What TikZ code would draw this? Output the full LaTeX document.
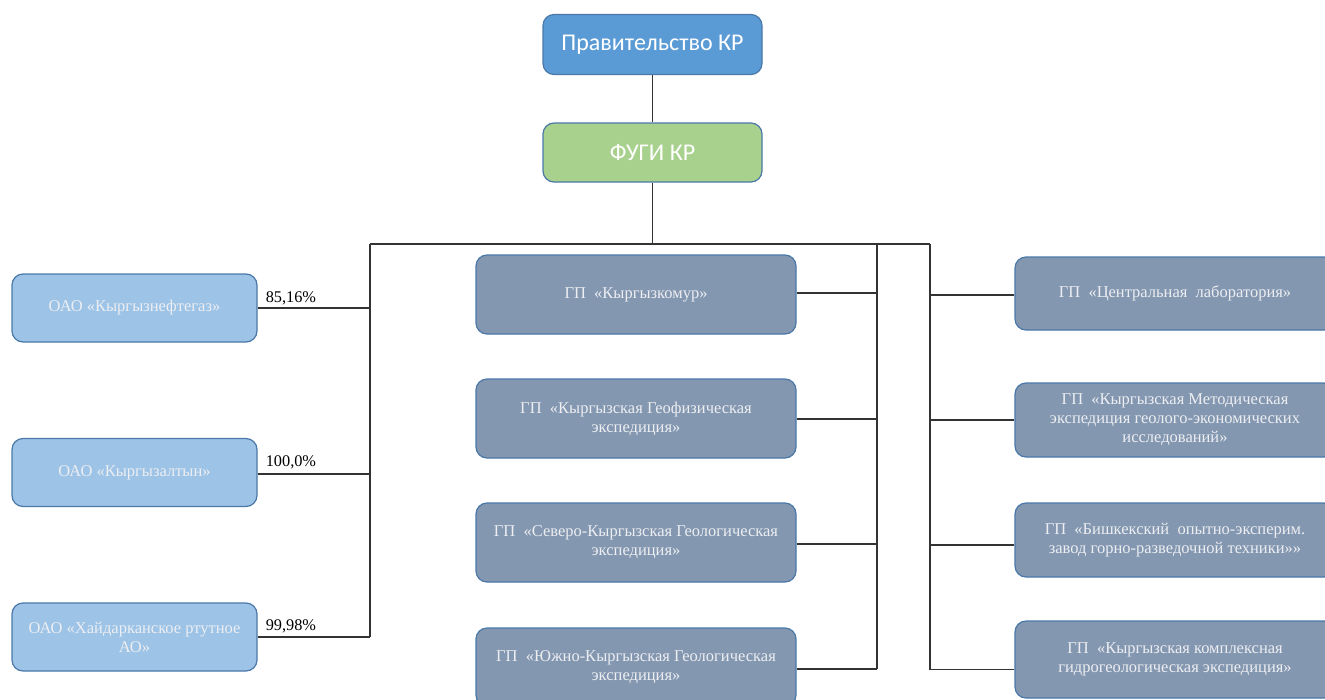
\documentclass[tikz,border=0pt]{standalone}
\usepackage{fontspec}
\setmainfont{Liberation Serif}
\newfontfamily\calfont{Carlito}
\definecolor{topblue}{HTML}{5B9BD5}
\definecolor{topgreen}{HTML}{A9D18E}
\definecolor{lightblue}{HTML}{9DC3E6}
\definecolor{slate}{HTML}{8497B0}
\definecolor{edge}{HTML}{4A78A8}
\definecolor{wire}{HTML}{333333}
\definecolor{boxtext}{HTML}{ECEEF2}
\begin{document}
\begin{tikzpicture}[x=1pt,y=-1pt,
  basebox/.style={draw=edge,line width=1.2pt,rounded corners=11pt,align=center,inner sep=2pt},
  headbox/.style={basebox,text=white,font=\calfont\fontsize{24}{28}\selectfont,minimum width=219pt},
  ownbox/.style={basebox,fill=lightblue,text=boxtext,font=\fontsize{16.5}{19}\selectfont,minimum width=245pt,minimum height=68pt},
  gpbox/.style={basebox,fill=slate,text=boxtext,font=\fontsize{16.5}{19}\selectfont,minimum width=320pt},
  wireline/.style={draw=wire,line width=1.3pt},
  pct/.style={anchor=base west,font=\fontsize{16.3}{18}\selectfont,inner sep=0pt}]
\clip (0,0) rectangle (1325,699);
\useasboundingbox (0,0) rectangle (1325,699);
% top boxes
\node[headbox,fill=topblue,minimum height=60pt] (gov) at (652.5,44.5) {Правительство КР};
\node[headbox,fill=topgreen,minimum height=59pt] (fugi) at (652.5,152.5) {ФУГИ КР};
% left boxes
\node[ownbox] (L1) at (134.5,308) {ОАО «Кыргызнефтегаз»};
\node[ownbox] (L2) at (134.5,472.5) {ОАО «Кыргызалтын»};
\node[ownbox] (L3) at (134.5,637) {ОАО «Хайдарканское ртутное\\АО»};
% middle boxes
\node[gpbox,minimum height=79pt] (M1) at (636,294.5) {ГП~ «Кыргызкомур»};
\node[gpbox,minimum height=79pt] (M2) at (636,418.5) {ГП~ «Кыргызская Геофизическая\\экспедиция»};
\node[gpbox,minimum height=79pt] (M3) at (636,542.5) {ГП~ «Северо-Кыргызская Геологическая\\экспедиция»};
\node[gpbox,minimum height=78pt] (M4) at (636,667) {ГП~ «Южно-Кыргызская Геологическая\\экспедиция»};
% right boxes
\node[gpbox,minimum height=73pt] (R1) at (1175,293.5) {ГП~ «Центральная~ лаборатория»};
\node[gpbox,minimum height=74pt] (R2) at (1175,420) {ГП~ «Кыргызская Методическая\\экспедиция геолого-экономических\\исследований»};
\node[gpbox,minimum height=74pt] (R3) at (1175,540) {ГП~ «Бишкекский~ опытно-эксперим.\\завод горно-разведочной техники»»};
\node[gpbox,minimum height=77pt] (R4) at (1175,659.5) {ГП~ «Кыргызская комплексная\\гидрогеологическая экспедиция»};
% bus coordinates
\coordinate (busTop) at (652.5,244);
\coordinate (busL) at (370,244);
\coordinate (busM) at (877,244);
\coordinate (busR) at (930,244);
% wires
\draw[wireline] (gov) -- (fugi);
\draw[wireline] (fugi) -- (busTop);
\draw[wireline] (busL) -- (busR);
\draw[wireline] (busL) -- (busL |- L3.east);
\draw[wireline] (busM) -- ([yshift=-2pt]busM |- M4.east);
\draw[wireline] (busR) -- ([yshift=-10pt]busR |- R4.west);
\draw[wireline] (L1.east) -- (L1.east -| busL);
\draw[wireline] ([yshift=-1.5pt]L2.east) -- ([yshift=-1.5pt]L2.east -| busL);
\draw[wireline] (L3.east) -- (L3.east -| busL);
\draw[wireline] ([yshift=1.5pt]M1.east) -- ([yshift=1.5pt]M1.east -| busM);
\draw[wireline] ([yshift=-0.5pt]M2.east) -- ([yshift=-0.5pt]M2.east -| busM);
\draw[wireline] ([yshift=-1.5pt]M3.east) -- ([yshift=-1.5pt]M3.east -| busM);
\draw[wireline] ([yshift=-2pt]M4.east) -- ([yshift=-2pt]M4.east -| busM);
\draw[wireline] ([yshift=-1.5pt]R1.west) -- ([yshift=-1.5pt]R1.west -| busR);
\draw[wireline] (R2.west) -- (R2.west -| busR);
\draw[wireline] ([yshift=-5pt]R3.west) -- ([yshift=-5pt]R3.west -| busR);
\draw[wireline] ([yshift=-10pt]R4.west) -- ([yshift=-10pt]R4.west -| busR);
% percentages
\node[pct] (p1) at ([xshift=8pt,yshift=6pt]L1.east) {85,16\%};
\node[pct] (p2) at ([xshift=8pt,yshift=6pt]L2.east) {100,0\%};
\node[pct] (p3) at ([xshift=8pt,yshift=7pt]L3.east) {99,98\%};
\end{tikzpicture}
\end{document}
